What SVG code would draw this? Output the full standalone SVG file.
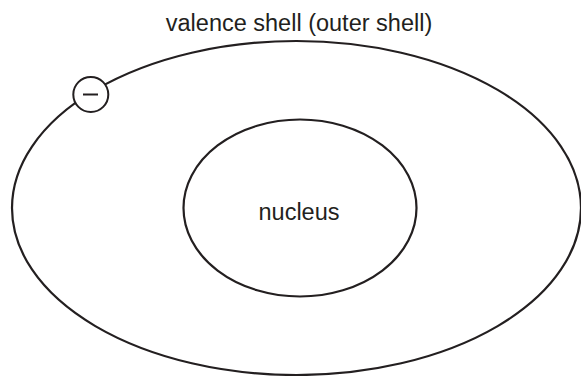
<svg xmlns="http://www.w3.org/2000/svg" width="581" height="376" viewBox="0 0 581 376">
  <style>
    .shell { fill: none; stroke: #231f20; stroke-width: 2.2; }
    .electron { fill: #ffffff; stroke: #231f20; stroke-width: 2; }
    .label { font-family: "Liberation Sans", Arial, sans-serif; font-size: 23.5px; fill: #231f20; text-anchor: middle; }
  </style>
  <rect width="581" height="376" fill="#ffffff"/>
  <!-- outer (valence) shell with its caption -->
  <g id="valence-shell">
    <ellipse class="shell" cx="296.5" cy="208" rx="284.5" ry="167"/>
    <text class="label" x="299" y="31">valence shell (outer shell)</text>
  </g>
  <!-- nucleus -->
  <g id="nucleus">
    <ellipse class="shell" cx="300" cy="208" rx="116.5" ry="88.5"/>
    <text class="label" x="299" y="220">nucleus</text>
  </g>
  <!-- electron sitting on the outer shell -->
  <g id="electron">
    <circle class="electron" cx="90.8" cy="94.5" r="17.5"/>
    <line x1="83" y1="94.5" x2="98" y2="94.5" stroke="#231f20" stroke-width="2"/>
  </g>
  <g id="connectors"/>
</svg>
